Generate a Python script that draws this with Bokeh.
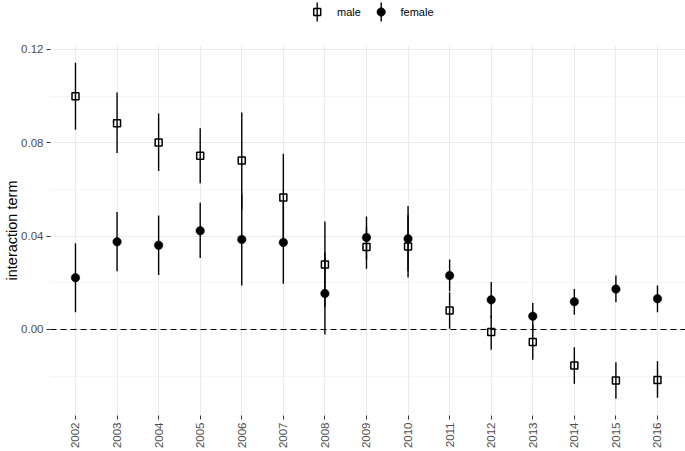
import math
from bokeh.plotting import figure
from bokeh.layouts import column
from bokeh.models import Range1d, FixedTicker, Span, ColumnDataSource
from bokeh.core.properties import value
from bokeh.embed import file_html
from bokeh.resources import INLINE

# ---------------- data ----------------
years = [2002, 2003, 2004, 2005, 2006, 2007, 2008, 2009, 2010,
         2011, 2012, 2013, 2014, 2015, 2016]
year_labels = [str(y) for y in years]

male_est = [0.0999, 0.0884, 0.0801, 0.0744, 0.0724, 0.0566, 0.0279, 0.0353,
            0.0356, 0.0081, -0.0011, -0.0054, -0.0154, -0.0219, -0.0216]
male_lo = [0.0856, 0.0756, 0.0679, 0.0627, 0.0514, 0.0380, 0.0095, 0.0260,
           0.0223, 0.0003, -0.0087, -0.0130, -0.0233, -0.0297, -0.0293]
male_hi = [0.1143, 0.1016, 0.0926, 0.0862, 0.0930, 0.0753, 0.0463, 0.0440,
           0.0490, 0.0160, 0.0060, 0.0020, -0.0076, -0.0140, -0.0136]

female_est = [0.0222, 0.0376, 0.0361, 0.0423, 0.0386, 0.0373, 0.0154, 0.0394,
              0.0389, 0.0231, 0.0127, 0.0057, 0.0119, 0.0173, 0.0132]
female_lo = [0.0074, 0.0250, 0.0234, 0.0306, 0.0189, 0.0196, -0.0021, 0.0300,
             0.0250, 0.0164, 0.0050, 0.0000, 0.0063, 0.0117, 0.0074]
female_hi = [0.0370, 0.0503, 0.0489, 0.0543, 0.0580, 0.0550, 0.0330, 0.0484,
             0.0529, 0.0300, 0.0203, 0.0114, 0.0174, 0.0231, 0.0189]

y_major = [0.0, 0.04, 0.08, 0.12]
y_major_labels = ["0.00", "0.04", "0.08", "0.12"]
y_minor = [-0.02, 0.02, 0.06, 0.10]

series_names = ["male", "female"]
y_title = "interaction term"

FONT = "Liberation Sans"
GRID = "#EBEBEB"
TICK_TEXT = "#4D4D4D"
W = 685
LEFT = 50

# ---------------- main plot ----------------
p = figure(width=W, height=413, output_backend="svg", toolbar_location=None,
           x_range=Range1d(2001.399, 2016.674), y_range=Range1d(-0.03686, 0.1217),
           min_border_left=LEFT, min_border_right=0, min_border_top=7,
           min_border_bottom=36)
p.outline_line_color = None
p.background_fill_color = "white"
p.border_fill_color = "white"

p.xaxis.ticker = FixedTicker(ticks=years)
p.xaxis.major_label_overrides = {y: s for y, s in zip(years, year_labels)}
p.xaxis.major_label_orientation = math.pi / 2
p.yaxis.ticker = FixedTicker(ticks=y_major, minor_ticks=y_minor)
p.yaxis.major_label_overrides = {v: s for v, s in zip(y_major, y_major_labels)}
p.yaxis.axis_label = y_title

for ax in (p.xaxis, p.yaxis):
    ax.axis_line_color = None
    ax.major_tick_line_color = "#333333"
    ax.major_tick_line_width = 1
    ax.major_tick_out = 4
    ax.major_tick_in = 0
    ax.minor_tick_line_color = None
    ax.major_label_text_font = FONT
    ax.major_label_text_font_size = "11.5px"
    ax.major_label_text_color = TICK_TEXT
    ax.major_label_standoff = 3
p.yaxis.axis_label_text_font = FONT
p.yaxis.axis_label_text_font_size = "14.5px"
p.yaxis.axis_label_text_font_style = "normal"
p.yaxis.axis_label_text_color = "black"
p.yaxis.axis_label_standoff = -2

p.xgrid.grid_line_color = GRID
p.xgrid.grid_line_width = 1
p.ygrid.grid_line_color = GRID
p.ygrid.grid_line_width = 1
p.ygrid.minor_grid_line_color = "#F0F0F0"
p.ygrid.minor_grid_line_width = 0.7

p.add_layout(Span(location=0, dimension="width", line_color="black",
                  line_width=1.1, line_dash="6 4"))

src_f = ColumnDataSource(dict(x=years, est=female_est, lo=female_lo, hi=female_hi))
src_m = ColumnDataSource(dict(x=years, est=male_est, lo=male_lo, hi=male_hi))

p.segment(x0="x", y0="lo", x1="x", y1="hi", source=src_f,
          line_color="black", line_width=1.4)
p.scatter(x="x", y="est", source=src_f, marker="circle", size=8.5,
          fill_color="black", line_color="black", line_width=0.5)
p.segment(x0="x", y0="lo", x1="x", y1="hi", source=src_m,
          line_color="black", line_width=1.4)
p.scatter(x="x", y="est", source=src_m, marker="square", size=7,
          fill_color=None, line_color="black", line_width=1.5)

# ---------------- legend strip (ggplot-style, above the panel) ----------------
leg = figure(width=W, height=38, output_backend="svg", toolbar_location=None,
             x_range=Range1d(LEFT, W), y_range=Range1d(38, 0),
             min_border_left=LEFT, min_border_right=0, min_border_top=0,
             min_border_bottom=0, x_axis_location=None, y_axis_location=None)
leg.outline_line_color = None
leg.xgrid.visible = False
leg.ygrid.visible = False
leg.border_fill_color = "white"
leg.background_fill_color = "white"

key_x = [316.7, 380.7]      # legend key centres (layout positions, px)
label_x = [336.5, 400.0]    # legend label starts (layout positions, px)
key_y0, key_y1, key_yc = 2.0, 21.0, 11.5

leg.segment(x0=key_x, y0=[key_y0] * 2, x1=key_x, y1=[key_y1] * 2,
            line_color="black", line_width=1.4)
leg.scatter(x=[key_x[0]], y=[key_yc], marker="square", size=7,
            fill_color=None, line_color="black", line_width=1.5)
leg.scatter(x=[key_x[1]], y=[key_yc], marker="circle", size=8.5,
            fill_color="black", line_color="black", line_width=0.5)
leg.text(x=label_x, y=[key_yc] * 2, text=series_names,
         text_font=value(FONT), text_font_size="11px", text_color="black",
         text_baseline="middle", text_align="left")

layout = column(leg, p)
open("out.html", "w").write(file_html(layout, INLINE))
